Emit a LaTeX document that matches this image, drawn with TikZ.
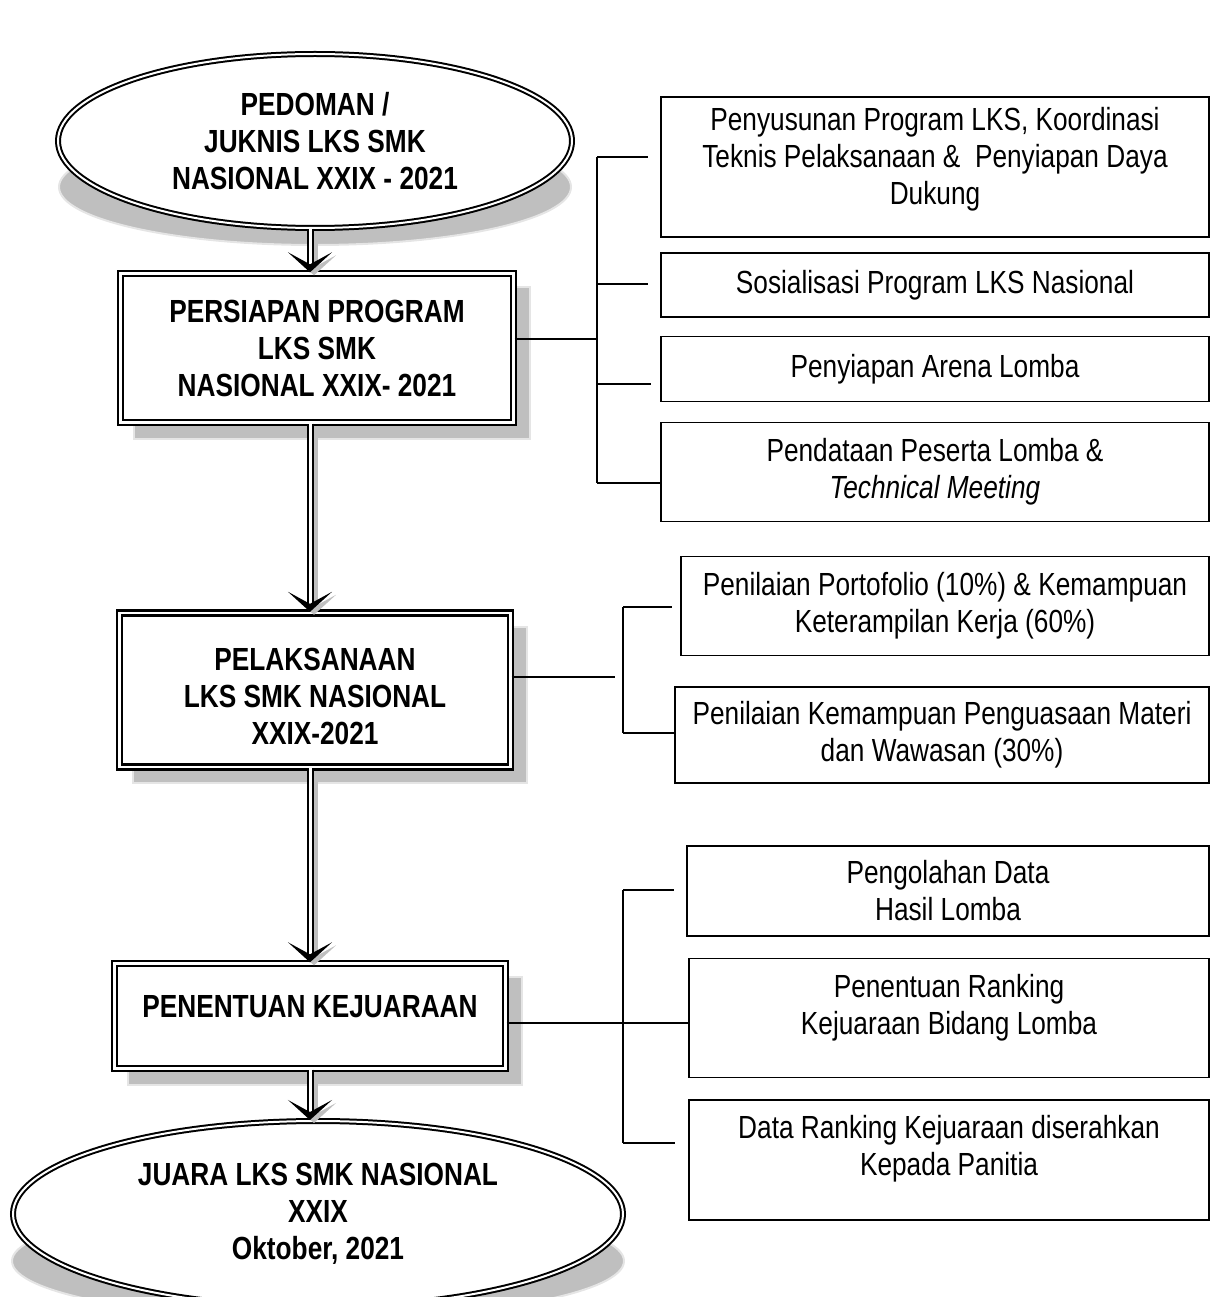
\documentclass[tikz,border=0pt]{standalone}
\usepackage{fontspec}
\setmainfont{Liberation Sans}[FakeStretch=0.82]
\usetikzlibrary{arrows.meta, shapes.geometric, positioning, backgrounds}

\begin{document}
\begin{tikzpicture}[x=1pt, y=-1pt,
  goal/.style={ellipse, draw, line width=2pt, double=white, double distance=2pt, fill=white,
    inner sep=0pt, align=center, font=\fontsize{32}{37}\selectfont\bfseries},
  stage/.style={rectangle, draw, line width=2.4pt, double=white, double distance=2.4pt, fill=white,
    inner sep=0pt, align=center, font=\fontsize{32}{37}\selectfont\bfseries},
  task/.style={rectangle, draw, line width=1.8pt, fill=white, inner sep=0pt,
    align=center, font=\fontsize{32}{37}\selectfont},
  ghost/.style={fill=black!25, draw=black!10, line width=2pt},
  link/.style={line width=1.6pt},
  flow/.style={draw=black, double=white, line width=2pt, double distance=3pt,
    -{Stealth[length=20pt, width=44pt, inset=12pt]},
    preaction={draw=black!25, double=black!25, transform canvas={xshift=4pt, yshift=-3pt}}}]
\useasboundingbox (0,0) rectangle (1214,1297);

\node[goal, minimum width=514pt, minimum height=174pt] (ped) at (315,141) {PEDOMAN /\\JUKNIS LKS SMK\\NASIONAL XXIX - 2021};
\node[stage, minimum width=393pt, minimum height=149pt] (prep) at (317,348) {PERSIAPAN PROGRAM\\LKS SMK\\NASIONAL XXIX- 2021};
\node[stage, minimum width=391pt, minimum height=154pt] (exe) at (315,690) {\strut\\[-28pt]PELAKSANAAN\\LKS SMK NASIONAL\\XXIX-2021};
\node[stage, minimum width=391pt, minimum height=105pt] (rank) at (310,1016) {PENENTUAN KEJUARAAN\\[-30pt]\strut};
\node[goal, minimum width=610pt, minimum height=186pt] (win) at (318,1214) {JUARA LKS SMK NASIONAL\\XXIX\\Oktober, 2021};

\node[task, minimum width=548pt, minimum height=140pt] (t1) at (935,167) {Penyusunan Program LKS, Koordinasi\\Teknis Pelaksanaan \&\ \ Penyiapan Daya\\Dukung\\[-25pt]\strut};
\node[task, minimum width=548pt, minimum height=64pt] (t2) at (935,285) {Sosialisasi Program LKS Nasional};
\node[task, minimum width=548pt, minimum height=65pt] (t3) at (935,369) {Penyiapan Arena Lomba};
\node[task, minimum width=548pt, minimum height=99pt] (t4) at (935,472) {Pendataan Peserta Lomba \&\\\textit{Technical Meeting}};
\node[task, minimum width=528pt, minimum height=99pt] (t5) at (945,606) {Penilaian Portofolio (10\%) \& Kemampuan\\Keterampilan Kerja (60\%)};
\node[task, minimum width=534pt, minimum height=96pt] (t6) at (942,735) {Penilaian Kemampuan Penguasaan Materi\\dan Wawasan (30\%)};
\node[task, minimum width=522pt, minimum height=90pt] (t7) at (948,891) {Pengolahan Data\\Hasil Lomba};
\node[task, minimum width=520pt, minimum height=119pt] (t8) at (949,1018) {Penentuan Ranking\\Kejuaraan Bidang Lomba\\[-21pt]\strut};
\node[task, minimum width=520pt, minimum height=120pt] (t9) at (949,1160) {Data Ranking Kejuaraan diserahkan\\Kepada Panitia\\[-19pt]\strut};

\begin{scope}[on background layer]
\path[ghost] ([shift={(0,46)}]ped.center) ellipse [x radius=256pt, y radius=58pt];
\path[ghost] ([shift={(0,47)}]win.center) ellipse [x radius=306pt, y radius=58pt];
\foreach \n in {prep, exe, rank}
  \path[ghost] ([shift={(15,15)}]\n.north west) rectangle ([shift={(15,15)}]\n.south east);
\end{scope}

\coordinate (axis) at (310,0);
\draw[flow] (ped.south -| axis) -- (prep.north -| axis);
\draw[flow] (prep.south -| axis) -- (exe.north -| axis);
\draw[flow] (exe.south -| axis) -- (rank.north -| axis);
\draw[flow] (rank.south -| axis) -- (win.north -| axis);

\coordinate (s1) at (597,339);
\draw[link] (prep.east |- s1) -- (s1);
\draw[link] (s1 |- 0,157) -- (s1 |- 0,483);
\foreach \n/\y/\g in {t1/157/12, t2/284/12, t3/384/9, t4/483/0}
  \draw[link, shorten >=\g pt] (s1 |- 0,\y) -- (\n.west |- 0,\y);

\coordinate (s2) at (623,677);
\draw[link, shorten >=8pt] (exe.east |- s2) -- (s2);
\draw[link] (s2 |- 0,607) -- (s2 |- 0,733);
\foreach \n/\y/\g in {t5/607/8, t6/733/0}
  \draw[link, shorten >=\g pt] (s2 |- 0,\y) -- (\n.west |- 0,\y);

\coordinate (s3) at (623,1023);
\draw[link] (rank.east |- s3) -- (t8.west |- s3);
\draw[link] (s3 |- 0,890) -- (s3 |- 0,1143);
\foreach \n/\y/\g in {t7/890/12, t9/1143/13}
  \draw[link, shorten >=\g pt] (s3 |- 0,\y) -- (\n.west |- 0,\y);
\end{tikzpicture}
\end{document}
